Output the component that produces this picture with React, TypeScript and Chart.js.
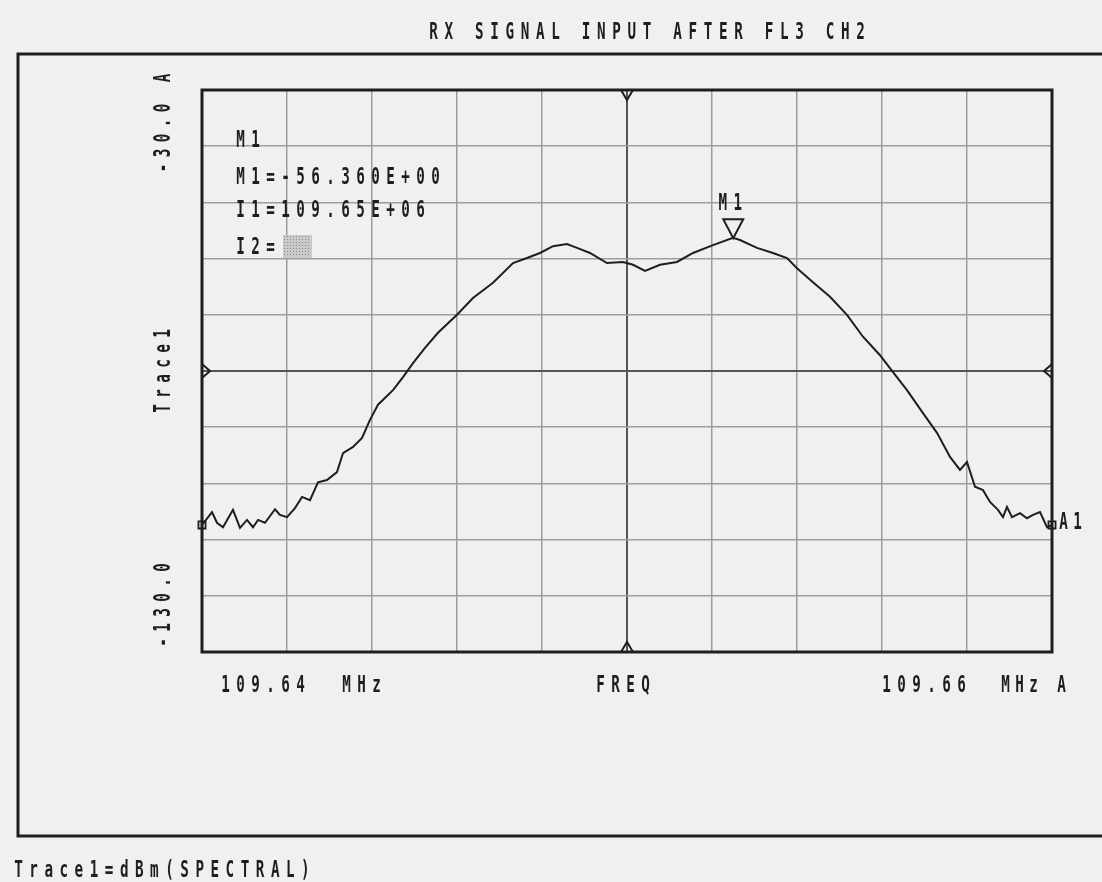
import React, { useEffect, useRef } from "react";
import { Chart, registerables } from "chart.js";

Chart.register(...registerables);

// ---- data ----
const spanKHz = 20; // 109.64 MHz .. 109.66 MHz
const freqOffsetKHz = [
  0.0, 0.235, 0.353, 0.494, 0.729, 0.894, 1.059, 1.2, 1.318, 1.482, 1.718, 1.835, 2.0, 2.188, 2.353,
  2.541, 2.729, 2.941, 3.176, 3.318, 3.553, 3.765, 3.953, 4.141, 4.494, 4.729, 4.965, 5.247, 5.553,
  6.0, 6.376, 6.847, 7.318, 7.647, 7.953, 8.259, 8.588, 8.824, 9.129, 9.529, 9.906, 10.141, 10.424,
  10.776, 11.176, 11.553, 12.024, 12.494, 12.659, 13.059, 13.435, 13.765, 14.0, 14.376, 14.776,
  15.176, 15.553, 15.953, 16.259, 16.588, 16.965, 17.294, 17.6, 17.835, 18.0, 18.188, 18.376, 18.541,
  18.729, 18.847, 18.941, 19.059, 19.247, 19.412, 19.553, 19.718, 19.882, 20.0,
];
const levelDbm = [
  -107.4, -105.1, -107.0, -107.8, -104.7, -107.9, -106.5, -107.8, -106.5, -107.0, -104.6, -105.6,
  -106.0, -104.4, -102.4, -103.0, -99.8, -99.4, -98.0, -94.6, -93.5, -91.9, -88.7, -86.0, -83.4,
  -81.1, -78.6, -75.9, -73.2, -70.0, -67.0, -64.3, -60.8, -59.9, -59.0, -57.8, -57.4, -58.1, -59.0,
  -60.8, -60.6, -61.1, -62.2, -61.1, -60.6, -59.0, -57.6, -56.3, -56.7, -58.1, -59.0, -59.9, -61.7,
  -64.2, -66.8, -70.0, -73.9, -77.2, -80.2, -83.4, -87.5, -91.0, -95.3, -97.6, -96.2, -100.6,
  -101.2, -103.3, -104.7, -106.0, -104.2, -106.0, -105.3, -106.2, -105.6, -105.1, -107.8, -107.4,
];
const yMin = -130;
const yMax = -30;
const markerOffsetKHz = 12.5;
const markerLevel = -56.36;

// ---- text ----
const titleText = "RX SIGNAL INPUT AFTER FL3 CH2";
const markerLines = ["M1", "M1=-56.360E+00", "I1=109.65E+06", "I2="];
const markerName = "M1";
const yTopLabel = "-30.0 A";
const yMidLabel = "Trace1";
const yBotLabel = "-130.0";
const xStartLabel = "109.64";
const xStopLabel = "109.66";
const xUnit = "MHz";
const xCenterLabel = "FREQ";
const traceEndLabel = "A1";
const footerText = "Trace1=dBm(SPECTRAL)";

const INK = "#1e1e1e";
const BG = "#eff0f2";

function drawMono(
  ctx: CanvasRenderingContext2D,
  text: string,
  x: number,
  y: number,
  adv = 15,
  size = 23,
  sx = 0.62
) {
  ctx.save();
  ctx.font = `bold ${size}px "DejaVu Sans Mono"`;
  ctx.textAlign = "center";
  ctx.textBaseline = "middle";
  ctx.fillStyle = INK;
  for (let i = 0; i < text.length; i++) {
    const ch = text[i];
    if (ch === " ") continue;
    ctx.save();
    ctx.translate(x + 4.5 + i * adv, y + 1);
    ctx.scale(sx, 1);
    ctx.fillText(ch, 0, 0);
    ctx.restore();
  }
  ctx.restore();
}

function drawRotated(ctx: CanvasRenderingContext2D, text: string, cx: number, cy: number) {
  ctx.save();
  ctx.translate(cx, cy);
  ctx.rotate(-Math.PI / 2);
  const adv = 15;
  const w = (text.length - 1) * adv + 9;
  drawMono(ctx, text, -w / 2, 0, adv);
  ctx.restore();
}

const decorPlugin = {
  id: "decor",
  beforeDraw(chart: any) {
    const ctx = chart.ctx as CanvasRenderingContext2D;
    ctx.save();
    ctx.fillStyle = BG;
    ctx.fillRect(0, 0, chart.width, chart.height);
    ctx.restore();
  },
  afterDraw(chart: any) {
    const ctx = chart.ctx as CanvasRenderingContext2D;
    const a = chart.chartArea;
    const xs = chart.scales.x;
    const ys = chart.scales.y;

    // outer frame
    ctx.save();
    ctx.strokeStyle = INK;
    ctx.lineWidth = 3;
    ctx.strokeRect(18, 54, chart.width + 20, 782);
    // plot frame
    ctx.lineWidth = 3;
    ctx.strokeRect(a.left, a.top, a.right - a.left, a.bottom - a.top);

    // reference half-diamonds
    const cx = xs.getPixelForValue(spanKHz / 2);
    const cy = ys.getPixelForValue((yMin + yMax) / 2);
    ctx.lineWidth = 2;
    ctx.beginPath();
    ctx.moveTo(cx - 6, a.top);
    ctx.lineTo(cx, a.top + 10);
    ctx.lineTo(cx + 6, a.top);
    ctx.moveTo(cx - 6, a.bottom);
    ctx.lineTo(cx, a.bottom - 10);
    ctx.lineTo(cx + 6, a.bottom);
    ctx.moveTo(a.left, cy - 7);
    ctx.lineTo(a.left + 8, cy);
    ctx.lineTo(a.left, cy + 7);
    ctx.moveTo(a.right, cy - 7);
    ctx.lineTo(a.right - 8, cy);
    ctx.lineTo(a.right, cy + 7);
    ctx.stroke();

    // marker triangle
    const mx = xs.getPixelForValue(markerOffsetKHz);
    const my = ys.getPixelForValue(markerLevel);
    ctx.beginPath();
    ctx.moveTo(mx - 10, my - 19);
    ctx.lineTo(mx + 10, my - 19);
    ctx.lineTo(mx, my);
    ctx.closePath();
    ctx.stroke();
    ctx.restore();
    drawMono(ctx, markerName, mx - 15, my - 35);

    // title
    drawMono(ctx, titleText, 429, 32, 15.25);

    // marker readout block
    const lineY = [140, 177, 210, 247];
    markerLines.forEach((t, i) => drawMono(ctx, t, a.left + 34, lineY[i]));
    // hatched box after I2=
    const bx = a.left + 34 + markerLines[3].length * 15 + 2;
    ctx.save();
    ctx.fillStyle = "#c9cacc";
    ctx.fillRect(bx, 235, 29, 23);
    ctx.fillStyle = "#8d8e90";
    for (let yy = 236; yy < 257; yy += 3) {
      for (let xx = bx + 1; xx < bx + 28; xx += 3) {
        ctx.fillRect(xx, yy, 1, 1);
      }
    }
    ctx.restore();

    // rotated y labels
    drawRotated(ctx, yTopLabel, 163, 123);
    drawRotated(ctx, yMidLabel, 163, cy);
    drawRotated(ctx, yBotLabel, 163, 605);

    // x labels
    drawMono(ctx, xStartLabel, 221, 685);
    drawMono(ctx, xUnit, 342, 685);
    drawMono(ctx, xCenterLabel, 596, 685);
    drawMono(ctx, xStopLabel, 882, 685);
    drawMono(ctx, xUnit + " A", 1001, 685, 14);

    // trace end label
    const lastY = ys.getPixelForValue(levelDbm[levelDbm.length - 1]);
    drawMono(ctx, traceEndLabel, a.right + 7, lastY - 3, 14);

    // footer
    drawMono(ctx, footerText, 14, 870, 15.1);
  },
};

export default function App() {
  const ref = useRef<HTMLCanvasElement | null>(null);

  useEffect(() => {
    document.body.style.margin = "0";
    const canvas = ref.current;
    if (!canvas) return;
    const points = freqOffsetKHz.map((f, i) => ({ x: f, y: levelDbm[i] }));
    const last = points.length - 1;
    const chart = new Chart(canvas, {
      type: "line",
      data: {
        datasets: [
          {
            data: points,
            borderColor: INK,
            borderWidth: 2,
            tension: 0,
            fill: false,
            clip: false,
            pointStyle: "rect",
            pointRadius: (c: any) => (c.dataIndex === 0 || c.dataIndex === last ? 5 : 0),
            pointBorderColor: INK,
            pointBorderWidth: 1.8,
            pointBackgroundColor: "rgba(0,0,0,0)",
          },
        ],
      },
      options: {
        animation: false,
        responsive: true,
        maintainAspectRatio: false,
        layout: { padding: { left: 202, right: 50, top: 90, bottom: 230 } },
        plugins: {
          legend: { display: false },
          tooltip: { enabled: false },
          title: { display: false },
        },
        scales: {
          x: {
            type: "linear",
            min: 0,
            max: spanKHz,
            ticks: { display: false, stepSize: 2 },
            grid: {
              drawTicks: false,
              tickLength: 0,
              lineWidth: (c: any) => (c.tick && c.tick.value === spanKHz / 2 ? 2 : 1.5),
              color: (c: any) => (c.tick && c.tick.value === spanKHz / 2 ? "#555" : "#9c9d9f"),
            },
            border: { display: false },
          },
          y: {
            type: "linear",
            min: yMin,
            max: yMax,
            ticks: { display: false, stepSize: 10 },
            grid: {
              drawTicks: false,
              tickLength: 0,
              lineWidth: (c: any) => (c.tick && c.tick.value === (yMin + yMax) / 2 ? 2 : 1.5),
              color: (c: any) =>
                c.tick && c.tick.value === (yMin + yMax) / 2 ? "#555" : "#9c9d9f",
            },
            border: { display: false },
          },
        },
      },
      plugins: [decorPlugin],
    });
    return () => chart.destroy();
  }, []);

  return (
    <div style={{ position: "fixed", left: 0, top: 0, width: 1102, height: 882 }}>
      <canvas ref={ref} />
    </div>
  );
}
